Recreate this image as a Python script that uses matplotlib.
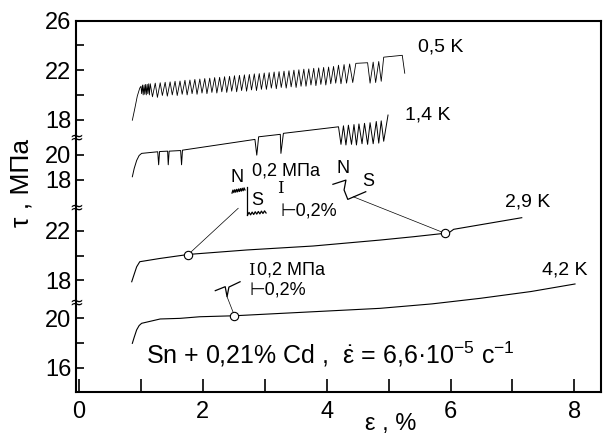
import matplotlib
matplotlib.use("Agg")
import matplotlib.pyplot as plt
import numpy as np

plt.rcParams['font.family'] = ['Liberation Sans', 'DejaVu Sans']
plt.rcParams['mathtext.fontset'] = 'custom'
plt.rcParams['mathtext.rm'] = 'Liberation Sans'
plt.rcParams['mathtext.it'] = 'Liberation Sans'
plt.rcParams['mathtext.sf'] = 'Liberation Sans'

# ---------------- data (strain %, stress MPa) ----------------
eps05 = [0.86, 0.90, 0.94, 0.98, 1.00,
         1.01, 1.025, 1.035, 1.05, 1.06, 1.075, 1.085, 1.10, 1.11, 1.125, 1.135,
         1.15, 1.185, 1.23, 1.265, 1.31, 1.345, 1.39, 1.425, 1.47, 1.505, 1.55, 1.585,
         1.63, 1.665, 1.71, 1.745, 1.79, 1.825, 1.87, 1.905, 1.95, 1.985, 2.03, 2.065,
         2.11, 2.145, 2.19, 2.225, 2.27, 2.305, 2.35, 2.385, 2.43, 2.465, 2.51, 2.545,
         2.59, 2.625, 2.67, 2.705, 2.75, 2.785, 2.83, 2.865, 2.91, 2.945, 2.99, 3.025,
         3.07, 3.105, 3.15, 3.185, 3.23, 3.265, 3.31, 3.345, 3.39, 3.425, 3.47, 3.505,
         3.55, 3.585, 3.63, 3.665, 3.71, 3.745, 3.79, 3.825, 3.87, 3.905, 3.95, 3.985,
         4.03, 4.065, 4.11, 4.145,
         4.19, 4.23, 4.28, 4.32, 4.37, 4.42, 4.47, 4.66, 4.70, 4.75, 4.79, 4.84, 4.88,
         4.92, 5.22, 5.26]
tau05 = [17.95, 18.9, 19.9, 20.55, 20.7,
         20.1, 20.8, 20.0, 20.8, 20.05, 20.85, 20.0, 20.85, 20.1, 20.9, 20.0,
         20.90, 19.85, 20.95, 19.80, 20.98, 19.95, 21.02, 19.90, 21.05, 20.00, 21.10, 19.95,
         21.12, 20.05, 21.18, 20.00, 21.20, 20.10, 21.25, 20.05, 21.28, 20.15, 21.32, 20.10,
         21.35, 20.20, 21.40, 20.15, 21.42, 20.25, 21.47, 20.20, 21.50, 20.30, 21.55, 20.25,
         21.58, 20.35, 21.62, 20.30, 21.65, 20.40, 21.70, 20.35, 21.72, 20.45, 21.77, 20.45,
         21.80, 20.55, 21.85, 20.50, 21.88, 20.60, 21.92, 20.55, 21.95, 20.65, 22.00, 20.60,
         22.03, 20.70, 22.08, 20.70, 22.10, 20.80, 22.15, 20.75, 22.18, 20.85, 22.22, 20.80,
         22.25, 20.90, 22.30, 20.95,
         22.40, 20.90, 22.45, 20.95, 22.50, 21.00, 22.55, 22.60, 20.95, 22.65, 21.00, 22.70, 21.10,
         23.05, 23.20, 21.75]

eps14 = [0.86, 0.89, 0.93, 0.97, 1.01, 1.27, 1.285, 1.30, 1.43, 1.44, 1.455, 1.64, 1.655, 1.67,
         2.84, 2.87, 2.90, 3.25, 3.26, 3.30, 4.19,
         4.23, 4.27, 4.31, 4.35, 4.40, 4.44, 4.48, 4.52, 4.57, 4.61, 4.66, 4.70, 4.75, 4.80,
         4.84, 4.88, 4.92, 4.99]
tau14 = [18.23, 18.9, 19.55, 19.95, 20.12, 20.25, 19.2, 20.27, 20.30, 19.2, 20.30, 20.35, 19.2, 20.38,
         21.25, 19.98, 21.46, 21.66, 20.12, 21.74, 22.27,
         20.85, 22.35, 20.80, 22.40, 20.85, 22.45, 20.80, 22.50, 20.90, 22.55, 20.85, 22.60, 20.90, 22.70,
         20.95, 22.75, 21.10, 23.22]

eps29 = [0.85, 0.89, 0.93, 0.98, 1.30, 1.74, 1.78, 1.82, 2.71, 3.78, 4.86, 5.40, 5.91, 5.96, 6.05, 7.15]
tau29 = [17.89, 18.5, 19.1, 19.51, 19.77, 20.08, 19.98, 20.12, 20.46, 20.78, 21.26, 21.53, 21.81, 21.80, 22.13, 23.07]

eps42 = [0.86, 0.89, 0.93, 0.97, 1.01, 1.31, 1.63, 1.95, 2.51, 3.25, 4.86, 5.70, 6.48, 7.30, 8.01]
tau42 = [17.96, 18.45, 19.05, 19.40, 19.58, 19.93, 19.98, 20.11, 20.19, 20.38, 20.79, 21.15, 21.60, 22.15, 22.76]

temps = ['0,5 K', '1,4 K', '2,9 K', '4,2 K']
curves = {'0,5 K': (eps05, tau05), '1,4 K': (eps14, tau14),
          '2,9 K': (eps29, tau29), '4,2 K': (eps42, tau42)}

# y-axis ticks of each panel (MPa) and which of them carry labels
panel_ticks = {'0,5 K': [18, 20, 22, 24, 26], '1,4 K': [18, 20],
               '2,9 K': [18, 20, 22], '4,2 K': [16, 18, 20]}
panel_labels = {'0,5 K': ['18', '', '22', '', '26'], '1,4 K': ['18', '20'],
                '2,9 K': ['18', '', '22'], '4,2 K': ['16', '', '20']}

# marked points (circles) on curves
circ_curve = ['2,9 K', '2,9 K', '4,2 K']
circ_eps = [1.76, 5.91, 2.51]
circ_tau = [20.08, 21.81, 20.19]

# ---------------- layout ----------------
offsets = {'0,5 K': 4.0, '1,4 K': -0.85, '2,9 K': -9.0, '4,2 K': -14.05}
label_pos = {'0,5 K': (5.48, 27.85), '1,4 K': (5.26, 22.36),
             '2,9 K': (6.88, 15.30), '4,2 K': (7.47, 9.84)}
curve_lw = {'0,5 K': 0.6, '1,4 K': 0.7, '2,9 K': 0.8, '4,2 K': 0.8}
breaks_y = [20.58, 14.92, 7.24]

fig = plt.figure(figsize=(6.05, 4.41), dpi=100)
ax = fig.add_axes([0.1251, 0.1118, 0.9934 - 0.1251, 0.9531 - 0.1118])
ax.set_xlim(-0.055, 8.43)
ax.set_ylim(0, 30)

for t in temps:
    e, s = curves[t]
    ax.plot(e, np.array(s) + offsets[t], color='black', lw=curve_lw[t])
    ax.text(*label_pos[t], t, fontsize=14, ha='left', va='center')

# insets (sketches of serrations, in axis units)
insA_up_x = [2.47, 2.485, 2.50, 2.515, 2.53, 2.545, 2.56, 2.575, 2.59, 2.605, 2.62, 2.635, 2.65, 2.665, 2.68]
insA_up_y = [16.06, 16.3, 16.1, 16.33, 16.13, 16.36, 16.16, 16.39, 16.19, 16.42, 16.22, 16.45, 16.25, 16.48, 16.31]
insA_v_x = [2.71, 2.71]
insA_v_y = [16.57, 14.28]
insA_lo_x = [2.72, 2.745, 2.77, 2.795, 2.82, 2.845, 2.87, 2.895, 2.92, 2.945, 2.97, 2.995, 3.02]
insA_lo_y = [14.28, 14.5, 14.3, 14.52, 14.33, 14.55, 14.36, 14.57, 14.38, 14.6, 14.41, 14.62, 14.45]
insB_x = [4.10, 4.31, 4.28, 4.34, 4.63]
insB_y = [16.77, 17.11, 16.31, 15.55, 16.17]
insC_x = [2.20, 2.36, 2.39, 2.42, 2.60]
insC_y = [8.17, 8.49, 7.68, 8.46, 8.89]
for xs, ys in [(insA_up_x, insA_up_y), (insA_v_x, insA_v_y), (insA_lo_x, insA_lo_y),
               (insB_x, insB_y), (insC_x, insC_y)]:
    ax.plot(xs, ys, color='black', lw=0.9)

# leader lines
leaders = [((2.57, 14.83), 0), ((4.43, 15.76), 1), ((2.39, 7.68), 2)]
for (x0, y0), i in leaders:
    ax.plot([x0, circ_eps[i]], [y0, circ_tau[i] + offsets[circ_curve[i]]], color='black', lw=0.5)
for i in range(3):
    ax.plot(circ_eps[i], circ_tau[i] + offsets[circ_curve[i]], 'o', ms=6,
            mfc='white', mec='black', mew=0.8)

fs_in = 13
ax.text(2.55, 17.36, 'N', fontsize=fs_in, ha='center', va='center')
ax.text(2.87, 15.42, 'S', fontsize=fs_in, ha='center', va='center')
ax.text(4.27, 18.06, 'N', fontsize=fs_in, ha='center', va='center')
ax.text(4.67, 16.98, 'S', fontsize=fs_in, ha='center', va='center')
ax.text(2.79, 17.88, '0,2 МПа', fontsize=fs_in, ha='left', va='center')
ax.text(3.25, 16.47, 'I', fontsize=12, ha='center', va='center', family='DejaVu Serif')
ax.text(3.25, 14.61, '⊢0,2%', fontsize=fs_in, ha='left', va='center')
ax.text(2.79, 9.84, 'I', fontsize=12, ha='center', va='center', family='DejaVu Serif')
ax.text(2.87, 9.84, '0,2 МПа', fontsize=fs_in, ha='left', va='center')
ax.text(2.76, 8.22, '⊢0,2%', fontsize=fs_in, ha='left', va='center')

ax.text(1.08, 2.3, r'Sn + 0,21% Cd ,  $\dot{\varepsilon}$ = 6,6·10$^{-5}$ c$^{-1}$',
        fontsize=18, ha='left', va='baseline')

# axes styling
yt, yl = [], []
for t in temps:
    for v, l in zip(panel_ticks[t], panel_labels[t]):
        yt.append(v + offsets[t])
        yl.append(l)
ax.set_yticks(yt)
ax.set_yticklabels(yl, fontsize=17)
ax.set_xticks(range(0, 9))
ax.set_xticklabels([str(v) if v % 2 == 0 else '' for v in range(0, 9)], fontsize=17)
ax.tick_params(axis='x', direction='in', length=9.4, width=1.2, pad=7)
ax.tick_params(axis='y', direction='in', length=5.8, width=1.2, pad=3)
for sp in ax.spines.values():
    sp.set_linewidth(1.5)

for yb in breaks_y:
    ax.text(0, yb, '≈', transform=ax.get_yaxis_transform(), fontsize=12,
            family='DejaVu Sans', ha='center', va='center', clip_on=False)

fig.text(22 / 605, 1 - 183 / 441, 'τ , МПа', rotation=90, fontsize=19, ha='center', va='center')
fig.text(391 / 605, 1 - 424 / 441, 'ε , %', fontsize=17, ha='center', va='center')

fig.savefig('out.png', dpi=100)
